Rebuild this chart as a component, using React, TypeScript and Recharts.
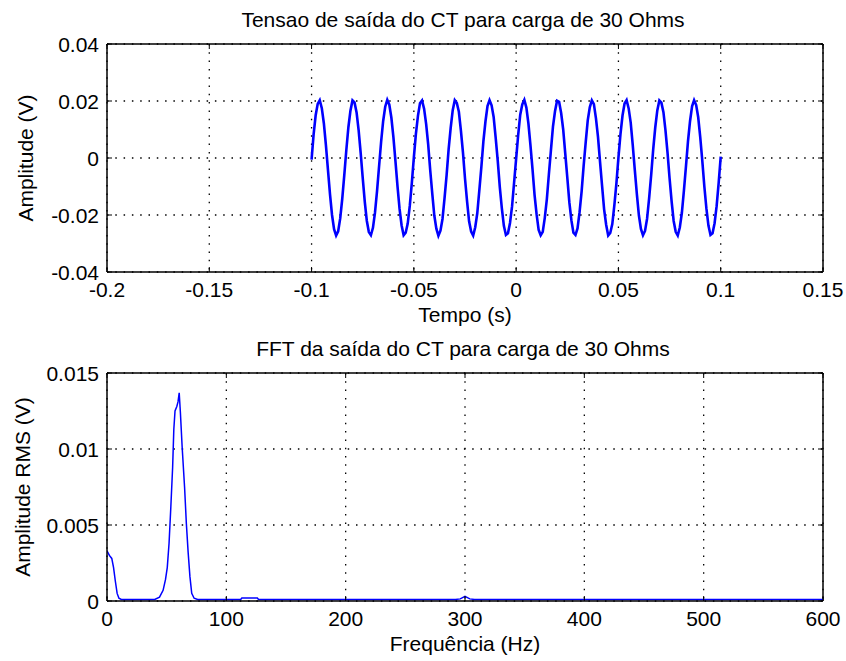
import React from "react";
import {
  CartesianGrid,
  Line,
  LineChart,
  ReferenceLine,
  XAxis,
  YAxis,
} from "recharts";

const FONT = '"Liberation Sans", Arial, Helvetica, sans-serif';
const FONT_SIZE = 21;
const PLOT_W = 716;
const PLOT_H = 228;
const TICK_LEN = 5;
const BLUE = "#0000ff";

// tensao de saida do CT, amostras a cada 1 ms (-0.1 s .. 0.1 s)
const T_START = -0.1;
const T_STEP = 0.001;
const voltage = [
  -0.0006, 0.0083, 0.015, 0.019, 0.0203, 0.0175, 0.0122, 0.0046, -0.0041, -0.0127,
  -0.02, -0.025, -0.0272, -0.0257, -0.0212, -0.0143, -0.0059, 0.0029, 0.0108, 0.0166,
  0.0202, 0.0195, 0.016, 0.0098, 0.0018, -0.007, -0.0153, -0.022, -0.026, -0.0271,
  -0.0245, -0.0192, -0.0116, -0.0029, 0.0057, 0.013, 0.018, 0.0204, 0.0187, 0.0142,
  0.0073, -0.0011, -0.0099, -0.0178, -0.0236, -0.0271, -0.0262, -0.023, -0.0168, -0.0088,
  0.0002, 0.0085, 0.0148, 0.0192, 0.0202, 0.0173, 0.012, 0.0048, -0.0043, -0.0125,
  -0.0202, -0.0248, -0.0273, -0.0255, -0.0214, -0.0141, -0.0061, 0.0031, 0.0106, 0.0168,
  0.0203, 0.0193, 0.0162, 0.0096, 0.002, -0.0072, -0.0151, -0.0222, -0.0258, -0.0272,
  -0.0243, -0.0194, -0.0114, -0.0031, 0.0059, 0.0128, 0.0182, 0.0203, 0.0185, 0.0144,
  0.0071, -0.0009, -0.0101, -0.0176, -0.0238, -0.027, -0.0264, -0.0228, -0.017, -0.0086,
  -0.0002, 0.0081, 0.0152, 0.0188, 0.0204, 0.0177, 0.0121, 0.0044, -0.0039, -0.0129,
  -0.0198, -0.0252, -0.0271, -0.0259, -0.021, -0.0145, -0.0057, 0.0027, 0.011, 0.0164,
  0.0201, 0.0197, 0.0158, 0.01, 0.0016, -0.0068, -0.0155, -0.0218, -0.0262, -0.027,
  -0.0247, -0.019, -0.0118, -0.0027, 0.0055, 0.0132, 0.0178, 0.0202, 0.0189, 0.014,
  0.0075, -0.0013, -0.0097, -0.018, -0.0234, -0.0272, -0.0263, -0.0232, -0.0166, -0.009,
  0.0001, 0.0084, 0.0149, 0.0191, 0.0203, 0.0174, 0.0124, 0.0045, -0.0042, -0.0126,
  -0.0201, -0.0249, -0.0271, -0.0256, -0.0213, -0.0142, -0.006, 0.003, 0.0107, 0.0167,
  0.0202, 0.0194, 0.0161, 0.0097, 0.0019, -0.0071, -0.0152, -0.0221, -0.0259, -0.0272,
  -0.0244, -0.0193, -0.0115, -0.003, 0.0058, 0.0129, 0.0181, 0.0203, 0.0186, 0.0143,
  0.0072, -0.001, -0.01, -0.0177, -0.0237, -0.027, -0.0264, -0.0229, -0.0169, -0.0087,
  0.0005,
];

const timeTicks = [-0.2, -0.15, -0.1, -0.05, 0, 0.05, 0.1, 0.15];
const voltTicks = [-0.04, -0.02, 0, 0.02, 0.04];

// FFT (valor RMS por frequencia)
const fftFreq = [
  0, 2, 4, 5.5, 7, 8.5, 10, 12, 20, 30, 40, 44, 47, 49, 50.5, 52, 53.5, 55, 56,
  57, 58.5, 59.5, 60.5, 61.5, 63, 65, 66.5, 68, 69.5, 71, 73, 76, 100, 112, 113,
  126, 127, 200, 292, 296, 300, 304, 308, 400, 500, 600,
];
const fftAmp = [
  0.0033, 0.003, 0.0028, 0.0022, 0.0013, 0.0005, 0.00018, 0.0001, 0.0001, 0.0001,
  0.0001, 0.00025, 0.0007, 0.0014, 0.0022, 0.0038, 0.0062, 0.0088, 0.0113, 0.0125,
  0.0128, 0.0131, 0.0137, 0.0124, 0.0101, 0.0075, 0.0051, 0.0032, 0.0016, 0.0005,
  0.00018, 0.0001, 0.0001, 0.0001, 0.0002, 0.0002, 0.0001, 0.0001, 0.0001, 0.00014,
  0.0003, 0.00014, 0.0001, 0.0001, 0.0001, 0.0001,
];
const freqTicks = [0, 100, 200, 300, 400, 500, 600];
const rmsTicks = [0, 0.005, 0.01, 0.015];

const timeData = voltage.map((v, i) => ({ t: T_START + i * T_STEP, v }));
const fftData = fftFreq.map((f, i) => ({ f, a: fftAmp[i] }));

const textStyle = { fontFamily: FONT, fontSize: FONT_SIZE, fill: "#000" };

// tickSize=0 and tickMargin=0, so (x, y) is the point on the axis line
const XTick = ({ x, y, payload }: any) => (
  <g>
    <line x1={x} x2={x} y1={y} y2={y - TICK_LEN} stroke="#000" />
    <line x1={x} x2={x} y1={y - PLOT_H} y2={y - PLOT_H + TICK_LEN} stroke="#000" />
    <text x={x} y={y + 25} textAnchor="middle" style={textStyle}>
      {String(payload.value)}
    </text>
  </g>
);

const YTick = ({ x, y, payload }: any) => (
  <g>
    <line x1={x} x2={x + TICK_LEN} y1={y} y2={y} stroke="#000" />
    <line x1={x + PLOT_W} x2={x + PLOT_W - TICK_LEN} y1={y} y2={y} stroke="#000" />
    <text x={x - 8} y={y + 7.5} textAnchor="end" style={textStyle}>
      {String(payload.value)}
    </text>
  </g>
);

const XLabel = ({ viewBox, text }: any) => (
  <text
    x={viewBox.x + viewBox.width / 2}
    y={viewBox.y + 50}
    textAnchor="middle"
    style={textStyle}
  >
    {text}
  </text>
);

const YLabel = ({ viewBox, text, baseX }: any) => {
  const cy = viewBox.y + viewBox.height / 2;
  return (
    <text
      x={baseX}
      y={cy}
      transform={`rotate(-90 ${baseX} ${cy})`}
      textAnchor="middle"
      style={textStyle}
    >
      {text}
    </text>
  );
};

const Subplot = ({
  data,
  xKey,
  yKey,
  xDomain,
  yDomain,
  xTicks,
  yTicks,
  xLabel,
  yLabel,
  yLabelX,
  height,
  top,
  axisHeight,
  strokeWidth,
}: any) => (
  <LineChart
    width={846}
    height={height}
    data={data}
    margin={{ top, right: 23, bottom: 0, left: 0 }}
  >
    <CartesianGrid stroke="#000" strokeWidth={1.3} strokeDasharray="1.5 6.8" />
    <XAxis
      dataKey={xKey}
      type="number"
      domain={xDomain}
      ticks={xTicks}
      interval={0}
      allowDataOverflow
      height={axisHeight}
      tickSize={0}
      tickMargin={0}
      tickLine={false}
      axisLine={{ stroke: "#000", strokeWidth: 1.5 }}
      tick={<XTick />}
      label={{ content: (p: any) => <XLabel {...p} text={xLabel} /> }}
    />
    <YAxis
      type="number"
      domain={yDomain}
      ticks={yTicks}
      interval={0}
      allowDataOverflow
      width={107}
      tickSize={0}
      tickMargin={0}
      tickLine={false}
      axisLine={{ stroke: "#000", strokeWidth: 1.5 }}
      tick={<YTick />}
      label={{
        content: (p: any) => <YLabel {...p} text={yLabel} baseX={yLabelX} />,
      }}
    />
    <ReferenceLine y={yDomain[1]} stroke="#000" strokeWidth={1.5} />
    <ReferenceLine x={xDomain[1]} stroke="#000" strokeWidth={1.5} />
    <Line
      type="linear"
      dataKey={yKey}
      stroke={BLUE}
      strokeWidth={strokeWidth}
      dot={false}
      activeDot={false}
      isAnimationActive={false}
    />
  </LineChart>
);

export default function App() {
  return (
    <div
      style={{
        position: "absolute",
        left: 0,
        top: 0,
        width: 846,
        height: 661,
        background: "#fff",
      }}
    >
      <div style={{ position: "absolute", left: 0, top: 0 }}>
        <Subplot
          data={timeData}
          xKey="t"
          yKey="v"
          xDomain={[-0.2, 0.15]}
          yDomain={[-0.04, 0.04]}
          xTicks={timeTicks}
          yTicks={voltTicks}
          xLabel="Tempo (s)"
          yLabel="Amplitude (V)"
          yLabelX={33}
          height={330}
          top={44}
          axisHeight={58}
          strokeWidth={2.6}
        />
      </div>
      <div style={{ position: "absolute", left: 0, top: 330 }}>
        <Subplot
          data={fftData}
          xKey="f"
          yKey="a"
          xDomain={[0, 600]}
          yDomain={[0, 0.015]}
          xTicks={freqTicks}
          yTicks={rmsTicks}
          xLabel="Frequência (Hz)"
          yLabel="Amplitude RMS (V)"
          yLabelX={30}
          height={331}
          top={43}
          axisHeight={60}
          strokeWidth={1.5}
        />
      </div>
      <svg
        width={846}
        height={661}
        style={{ position: "absolute", left: 0, top: 0, pointerEvents: "none" }}
      >
        <text x={463} y={27} textAnchor="middle" style={textStyle}>
          Tensao de saída do CT para carga de 30 Ohms
        </text>
        <text x={463} y={356} textAnchor="middle" style={textStyle}>
          FFT da saída do CT para carga de 30 Ohms
        </text>
      </svg>
    </div>
  );
}
